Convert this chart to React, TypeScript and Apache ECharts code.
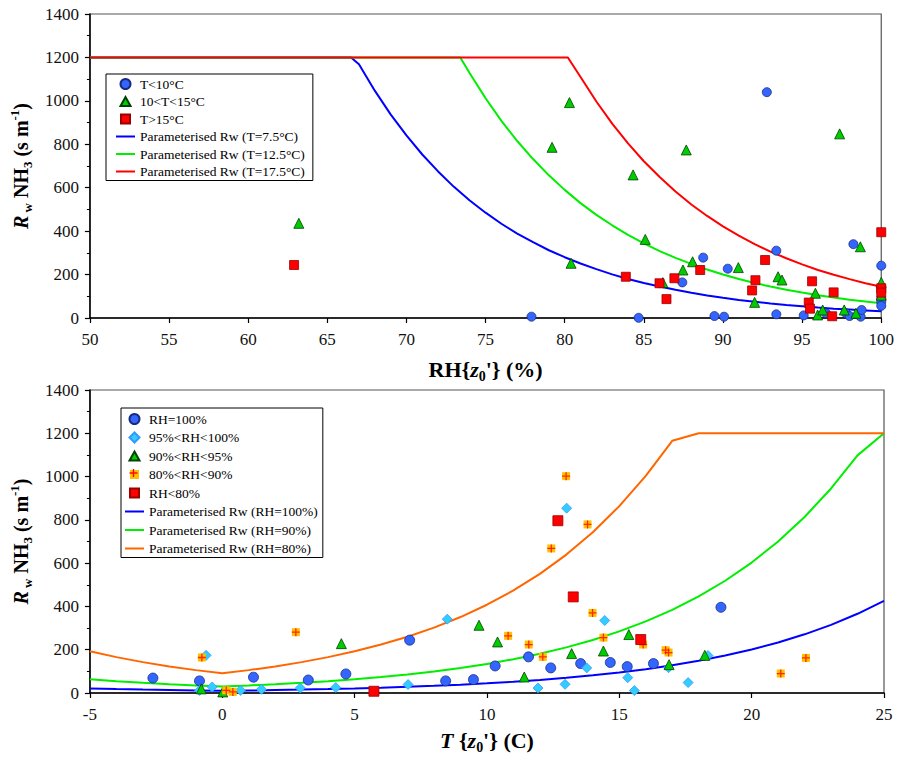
import React, { useEffect, useRef } from "react";
import * as echarts from "echarts";

const FONT = "Liberation Serif";

// ---------- Top chart: Rw vs RH ----------
const circleRH = [77.9, 84.67, 89.46, 90.07, 92.77, 87.43, 88.75, 90.3, 93.37, 93.37, 95.1, 96.5, 97.77, 98.0, 98.7, 98.76, 98.24, 100, 100, 100, 100];
const circleRw = [6, 1, 9, 6, 1040, 164, 278, 227, 310, 17, 12, 22, 22, 9, 6, 37, 340, 241, 90, 75, 56];

const triRH = [63.2, 80.3, 79.2, 80.4, 97.37, 87.68, 84.32, 85.09, 86.2, 87.47, 88.08, 90.97, 92.0, 93.48, 93.73, 95.84, 95.98, 96.3, 97.66, 98.4, 98.68, 100, 100];
const triRw = [436, 992, 786, 252, 848, 774, 659, 362, 163, 221, 259, 232, 72, 190, 175, 114, 14, 37, 37, 22, 328, 164, 105];

const sqRH = [62.9, 83.86, 85.99, 86.43, 86.93, 88.56, 92.66, 92.05, 91.84, 95.63, 96.99, 95.42, 95.5, 96.9, 100, 100, 100];
const sqRw = [244, 190, 160, 87, 183, 221, 267, 174, 127, 169, 118, 71, 43, 8, 395, 137, 117];

const curveBlueRH = [50, 66.5, 67, 68, 69, 70, 71, 72, 73, 74, 75, 76, 77, 78, 79, 80, 81, 82, 83, 84, 85, 86, 87, 88, 89, 90, 91, 92, 93, 94, 95, 96, 97, 98, 99, 100];
const curveBlueRw = [1200, 1200, 1169, 1047, 938, 841, 753, 675, 604, 541, 485, 434, 389, 349, 312, 280, 251, 225, 201, 180, 161, 145, 130, 116, 104, 93, 83, 75, 67, 60, 54, 48, 43, 39, 35, 31];

const curveGreenRH = [50, 73.4, 74, 75, 76, 77, 78, 79, 80, 81, 82, 83, 84, 85, 86, 87, 88, 89, 90, 91, 92, 93, 94, 95, 96, 97, 98, 99, 100];
const curveGreenRw = [1200, 1200, 1127, 1012, 908, 815, 732, 657, 590, 529, 475, 427, 383, 344, 308, 277, 249, 223, 200, 180, 161, 145, 130, 117, 105, 94, 84, 76, 68];

const curveRedRH = [50, 80.2, 81, 82, 83, 84, 85, 86, 87, 88, 89, 90, 91, 92, 93, 94, 95, 96, 97, 98, 99, 100];
const curveRedRw = [1200, 1200, 1110, 997, 895, 804, 722, 649, 583, 523, 470, 422, 379, 340, 306, 275, 247, 221, 199, 179, 160, 144];

// ---------- Bottom chart: Rw vs T ----------
const rh100T = [-2.62, -0.86, 1.18, 3.25, 4.67, 7.08, 8.44, 9.49, 10.31, 11.57, 12.41, 13.54, 14.66, 15.3, 16.29, 18.84];
const rh100Rw = [69, 56, 73, 60, 88, 244, 56, 62, 125, 167, 116, 136, 141, 122, 136, 396];

const rh95T = [-0.61, -0.86, -0.38, 0.69, 1.48, 2.95, 4.29, 7.02, 8.5, 11.93, 12.95, 13.01, 13.77, 14.45, 15.32, 15.57, 16.86, 18.35, 17.6];
const rh95Rw = [174, 12, 28, 12, 17, 23, 25, 39, 341, 23, 40, 854, 116, 335, 71, 11, 117, 173, 48];

const rh90T = [-0.79, 0.02, 4.5, 9.7, 10.4, 11.41, 13.2, 14.4, 15.36, 16.88, 18.23];
const rh90Rw = [19, 5, 228, 313, 236, 74, 182, 194, 270, 131, 174];

const rh80T = [-0.77, 0.15, 0.4, 2.78, 12.99, 13.8, 12.43, 13.99, 10.8, 11.58, 12.11, 14.4, 15.9, 16.75, 16.86, 21.1, 22.05];
const rh80Rw = [164, 12, 5, 281, 1002, 779, 668, 370, 264, 224, 167, 256, 224, 198, 187, 90, 162];

const rhLowT = [5.73, 12.68, 13.26, 15.81];
const rhLowRw = [8, 796, 444, 247];

const curveT = [-5, -4, -3, -2, -1, 0, 1, 2, 3, 4, 5, 6, 7, 8, 9, 10, 11, 12, 13, 14, 15, 16, 17, 18, 19, 20, 21, 22, 23, 24, 25];
const curve100Rw = [21.2, 18.2, 15.7, 13.5, 11.6, 10, 11.6, 13.5, 15.7, 18.2, 21.2, 24.6, 28.6, 33.2, 38.6, 44.8, 52.1, 60.5, 70.3, 81.7, 94.9, 110.2, 128.1, 148.8, 172.9, 200.9, 233.4, 271.1, 315.0, 366.0, 425.2];
const curve90Rw = [63.5, 54.7, 47.0, 40.5, 34.9, 30, 34.9, 40.5, 47.0, 54.7, 63.5, 73.8, 85.7, 99.6, 115.7, 134.5, 156.2, 181.5, 210.9, 245.0, 284.6, 330.7, 384.2, 446.4, 518.6, 602.6, 700.1, 813.4, 945.0, 1097.9, 1200];
const curve80Rw = [192.6, 165.8, 142.7, 122.8, 105.7, 91, 105.7, 122.8, 142.7, 165.8, 192.6, 223.8, 260.1, 302.1, 351.0, 407.8, 473.8, 550.5, 639.6, 743.1, 863.4, 1003.1, 1165.4, 1200, 1200, 1200, 1200, 1200, 1200, 1200, 1200];

const topNames = ["T<10°C", "10<T<15°C", "T>15°C", "Parameterised Rw (T=7.5°C)", "Parameterised Rw (T=12.5°C)", "Parameterised Rw (T=17.5°C)"];
const bottomNames = ["RH=100%", "95%<RH<100%", "90%<RH<95%", "80%<RH<90%", "RH<80%", "Parameterised Rw (RH=100%)", "Parameterised Rw (RH=90%)", "Parameterised Rw (RH=80%)"];

const zip = (xs: number[], ys: number[]) => xs.map((x, i) => [x, ys[i]]);

const CROSS = "path://M4.2,0H5.8V4.2H10V5.8H5.8V10H4.2V5.8H0V4.2H4.2Z";
// legend icons drawn inside a 19x10 box (the leading moveTo's fix the box)
const ICON_LINE = "path://M0,0M19,10M0,4H19V6H0Z";
const ICON_TRI = "path://M0,0M19,10M9.5,0.5L14.5,9.5L4.5,9.5Z";
const ICON_RECT = "path://M0,0M19,10M5,0.5H14V9.5H5Z";
const ICON_DIAMOND = "path://M0,0M19,10M9.5,0L14.5,5L9.5,10L4.5,5Z";
const ICON_CIRCLE = "circle";

const makeRich = (size: number) => ({
  b: { fontFamily: FONT, fontSize: size, fontWeight: "bold", color: "#000" },
  bi: { fontFamily: FONT, fontSize: size, fontWeight: "bold", fontStyle: "italic", color: "#000" },
  sub: { fontFamily: FONT, fontSize: Math.round(size * 0.65), fontWeight: "bold", color: "#000", verticalAlign: "bottom", lineHeight: size + 6 },
  sup: { fontFamily: FONT, fontSize: Math.round(size * 0.65), fontWeight: "bold", color: "#000", verticalAlign: "top", lineHeight: size + 6 },
});

const axisCommon = {
  type: "value",
  axisLine: { show: true, onZero: false, lineStyle: { color: "#000", width: 1.5 } },
  axisTick: { show: true, length: 5, lineStyle: { color: "#000", width: 1.2 } },
  splitLine: { show: false },
  nameLocation: "middle",
};

const plain = (v: number) => String(v);
const xLabel = { fontFamily: FONT, fontSize: 17, color: "#111", margin: 13, formatter: plain };
const yLabel = { fontFamily: FONT, fontSize: 17, color: "#111", margin: 11, formatter: plain };

const xNameStyle = { fontFamily: FONT, fontSize: 22, fontWeight: "bold", color: "#000", rich: makeRich(22) };
const yNameStyle = { fontFamily: FONT, fontSize: 20, fontWeight: "bold", color: "#000", rich: makeRich(20) };

const yName = "{bi|R}{sub| w} {b|NH}{sub|3}{b| (s m}{sup|-1}{b|)}";

function buildOption() {
  const legendCommon = {
    orient: "vertical",
    itemWidth: 19,
    itemHeight: 10,
    borderColor: "#000",
    borderWidth: 1,
    backgroundColor: "#fff",
    selectedMode: false,
    textStyle: { fontFamily: FONT, fontSize: 13.5, color: "#000" },
    z: 10,
  };
  const scatter = (name: string, xi: number, data: number[][], symbol: string, size: number, color: string, border: string, z: number) => ({
    name,
    type: "scatter",
    xAxisIndex: xi,
    yAxisIndex: xi,
    data,
    symbol,
    symbolSize: size,
    itemStyle: { color, borderColor: border, borderWidth: border === "none" ? 0 : 0.8, opacity: 1 },
    z,
  });
  const line = (name: string, xi: number, data: number[][], color: string) => ({
    name,
    type: "line",
    xAxisIndex: xi,
    yAxisIndex: xi,
    data,
    symbol: "none",
    showSymbol: false,
    lineStyle: { color, width: 2 },
    itemStyle: { color },
    z: 2,
  });
  const legendData = (names: string[], icons: string[]) => names.map((n, i) => ({ name: n, icon: icons[i] }));

  return {
    animation: false,
    backgroundColor: "#fff",
    textStyle: { fontFamily: FONT },
    grid: [
      { left: 87, top: 14, width: 797, height: 304, show: true, borderColor: "#555", borderWidth: 1.2, backgroundColor: "transparent" },
      { left: 87, top: 390, width: 797, height: 303, show: true, borderColor: "#555", borderWidth: 1.2, backgroundColor: "transparent" },
    ],
    xAxis: [
      {
        ...axisCommon,
        gridIndex: 0,
        min: 50,
        max: 100,
        interval: 5,
        axisLabel: xLabel,
        name: "{b|RH{}{bi|z}{sub|0}'} (%)",
        nameGap: 37,
        nameTextStyle: xNameStyle,
      },
      {
        ...axisCommon,
        gridIndex: 1,
        min: -5,
        max: 25,
        interval: 5,
        axisLabel: xLabel,
        name: "{bi|T}{b| {}{bi|z}{sub|0}'} (C)",
        nameGap: 33,
        nameTextStyle: xNameStyle,
      },
    ],
    yAxis: [0, 1].map((gi) => ({
      ...axisCommon,
      gridIndex: gi,
      min: 0,
      max: 1400,
      interval: 200,
      minorTick: { show: true, splitNumber: 2, length: 3, lineStyle: { color: "#000", width: 1 } },
      axisLabel: yLabel,
      name: yName,
      nameRotate: 90,
      nameGap: 44,
      nameTextStyle: yNameStyle,
    })),
    legend: [
      {
        ...legendCommon,
        data: legendData(topNames, [ICON_CIRCLE, ICON_TRI, ICON_RECT, ICON_LINE, ICON_LINE, ICON_LINE]),
        left: 106,
        top: 74,
        itemGap: 3.5,
        padding: [3, 8, 2, 9],
      },
      {
        ...legendCommon,
        data: legendData(bottomNames, [ICON_CIRCLE, ICON_DIAMOND, ICON_TRI, ICON_RECT, ICON_RECT, ICON_LINE, ICON_LINE, ICON_LINE]),
        left: 121,
        top: 408,
        itemGap: 4.5,
        padding: [4, 5, 2, 3],
      },
    ],
    graphic: [
      { type: "rect", z: 100, shape: { x: 129.5, y: 472.3, width: 8, height: 1.4 }, style: { fill: "#ff0000" } },
      { type: "rect", z: 100, shape: { x: 132.8, y: 469, width: 1.4, height: 8 }, style: { fill: "#ff0000" } },
    ],
    series: [
      line(topNames[3], 0, zip(curveBlueRH, curveBlueRw), "#0000ff"),
      line(topNames[4], 0, zip(curveGreenRH, curveGreenRw), "#00ee00"),
      line(topNames[5], 0, zip(curveRedRH, curveRedRw), "#ff0000"),
      scatter(topNames[0], 0, zip(circleRH, circleRw), "circle", 9, "#3366ff", "#1a2a80", 5),
      scatter(topNames[1], 0, zip(triRH, triRw), "triangle", 10, "#00cc00", "#004000", 6),
      scatter(topNames[2], 0, zip(sqRH, sqRw), "rect", 9, "#ff0000", "#990000", 7),

      line(bottomNames[5], 1, zip(curveT, curve100Rw), "#0000ff"),
      line(bottomNames[6], 1, zip(curveT, curve90Rw), "#00ee00"),
      line(bottomNames[7], 1, zip(curveT, curve80Rw), "#ff6600"),
      scatter(bottomNames[0], 1, zip(rh100T, rh100Rw), "circle", 10, "#3366ff", "#1a2a80", 5),
      scatter(bottomNames[1], 1, zip(rh95T, rh95Rw), "diamond", 10, "#33ccff", "#3399ff", 6),
      scatter(bottomNames[2], 1, zip(rh90T, rh90Rw), "triangle", 10, "#00cc00", "#004000", 7),
      scatter(bottomNames[3], 1, zip(rh80T, rh80Rw), "rect", 8, "#ffc000", "none", 8),
      {
        name: "80-90 cross",
        type: "scatter",
        xAxisIndex: 1,
        yAxisIndex: 1,
        data: zip(rh80T, rh80Rw),
        symbol: CROSS,
        symbolSize: 8,
        itemStyle: { color: "#ff0000" },
        z: 9,
      },
      scatter(bottomNames[4], 1, zip(rhLowT, rhLowRw), "rect", 10, "#ff0000", "#990000", 10),
    ],
  };
}

export default function App() {
  const ref = useRef<HTMLDivElement>(null);
  useEffect(() => {
    document.body.style.margin = "0";
    if (!ref.current) return;
    const chart = echarts.init(ref.current, null, { renderer: "svg" });
    chart.setOption(buildOption() as any);
    return () => chart.dispose();
  }, []);
  return <div ref={ref} style={{ width: 897, height: 758 }} />;
}
